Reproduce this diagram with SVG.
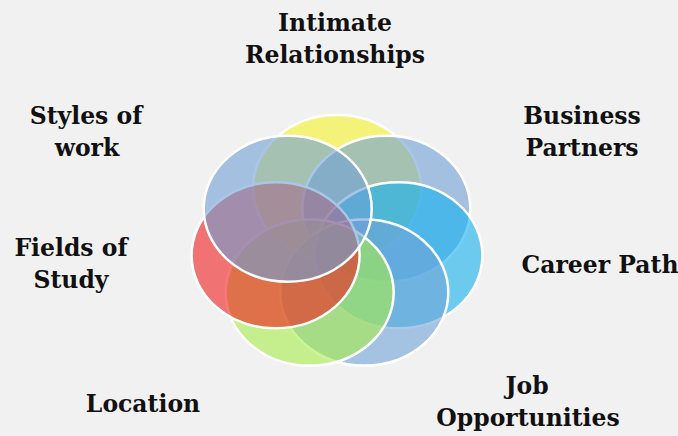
<svg xmlns="http://www.w3.org/2000/svg" width="678" height="436" viewBox="0 0 678 436">
<style>
.bg{fill:#f1f1f1}
.e{stroke:#ffffff;stroke-width:2.5;fill-opacity:0.6}
.t{font-family:"DejaVu Serif","Liberation Serif",serif;font-weight:bold;font-size:23.5px;fill:#111111;text-anchor:middle}
</style>
<rect class="bg" x="0" y="0" width="678" height="436"/>
<g id="intimate"><ellipse class="e" cx="337" cy="188" rx="84" ry="73" fill="#f8f32b"/></g>
<g id="business"><ellipse class="e" cx="386.3" cy="208.7" rx="84" ry="73" fill="#6fa0d5"/></g>
<g id="career"><ellipse class="e" cx="398.4" cy="255.3" rx="84" ry="73" fill="#12b0ec"/></g>
<g id="job"><ellipse class="e" cx="364.3" cy="292.6" rx="84" ry="73" fill="#72a4d8"/></g>
<g id="location"><ellipse class="e" cx="309.7" cy="292.6" rx="84" ry="73" fill="#a8ec49"/></g>
<g id="fields"><ellipse class="e" cx="275.6" cy="255.3" rx="84" ry="73" fill="#f01e1e"/></g>
<g id="styles"><ellipse class="e" cx="287.7" cy="208.7" rx="84" ry="73" fill="#6fa0d5"/></g>
<g id="labels">
<text class="t" x="335" y="31">Intimate</text>
<text class="t" x="335" y="63">Relationships</text>
<text class="t" x="86" y="124">Styles of</text>
<text class="t" x="87" y="156">work</text>
<text class="t" x="582" y="124">Business</text>
<text class="t" x="582" y="156">Partners</text>
<text class="t" x="71" y="256">Fields of</text>
<text class="t" x="71" y="288">Study</text>
<text class="t" x="600" y="273">Career Path</text>
<text class="t" x="143" y="412">Location</text>
<text class="t" x="527" y="394">Job</text>
<text class="t" x="528" y="426">Opportunities</text>
</g>
</svg>
